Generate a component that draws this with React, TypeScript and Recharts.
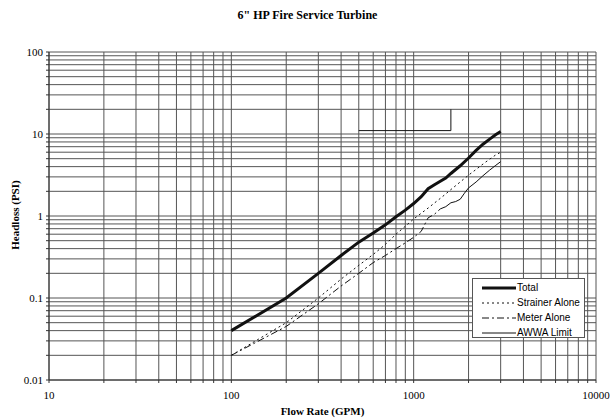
import React from "react";
import { LineChart, Line, XAxis, YAxis, CartesianGrid } from "recharts";

const title = '6" HP Fire Service Turbine';
const xTitle = "Flow Rate (GPM)";
const yTitle = "Headloss (PSI)";

const xDecades = [10, 100, 1000];
const yDecades = [0.01, 0.1, 1, 10];
const minorSteps = [1, 2, 3, 4, 5, 6, 7, 8, 9];
const xLast = 10000;
const yLast = 100;

const flow = [100, 200, 300, 400, 500, 600, 700, 800, 900, 1000, 1100, 1200, 1300, 1400, 1500, 1600, 1800, 2000, 2200, 2400, 2600, 2800, 3000];
const total = [0.04, 0.1, 0.2, 0.33, 0.48, 0.62, 0.78, 0.98, 1.18, 1.42, 1.72, 2.15, 2.4, 2.65, 2.9, 3.3, 4.1, 5.1, 6.3, 7.5, 8.6, 9.7, 10.7];
const strainer = [0.02, 0.05, 0.1, 0.17, 0.25, 0.34, 0.45, 0.6, 0.75, 0.92, 1.08, 1.25, 1.44, 1.64, 1.86, 2.1, 2.6, 3.15, 3.7, 4.3, 4.9, 5.5, 6.0];

const flowMeter = [100, 200, 300, 400, 500, 600, 700, 800, 900, 1000, 1100, 1200, 1300, 1400];
const meter = [0.02, 0.045, 0.085, 0.14, 0.2, 0.27, 0.33, 0.4, 0.47, 0.55, 0.65, 0.95, 1.05, 1.22];

const flowMeterHigh = [1400, 1500, 1600, 1700, 1800, 1900, 2000, 2200, 2400, 2600, 2800, 3000];
const meterHigh = [1.22, 1.3, 1.45, 1.5, 1.6, 1.9, 2.2, 2.6, 3.1, 3.6, 4.1, 4.6];

const flowAwwa = [500, 1600, 1600];
const awwa = [11, 11, 20];

const toPts = (xs: number[], ys: number[]) => xs.map((x, i) => ({ x, y: ys[i] }));

const xTicks = [...xDecades.flatMap((d) => minorSteps.map((m) => +(d * m).toPrecision(6))), xLast];
const yTicks = [...yDecades.flatMap((d) => minorSteps.map((m) => +(d * m).toPrecision(6))), yLast];

const isDecade = (v: number) => Math.abs(Math.log10(v) - Math.round(Math.log10(v))) < 1e-9;
const fmt = (v: number) => (isDecade(v) ? String(v) : "");

const serif = '"Liberation Serif", "Times New Roman", serif';
const sans = '"Liberation Sans", Arial, sans-serif';

const legendItems = [
  { name: "Total", width: 3, dash: undefined as string | undefined },
  { name: "Strainer Alone", width: 1, dash: "2 3" },
  { name: "Meter Alone", width: 1, dash: "7 3 2 3" },
  { name: "AWWA Limit", width: 1, dash: undefined },
];

export default function App() {
  return (
    <div style={{ position: "absolute", left: 0, top: 0, width: 615, height: 419, background: "#fff" }}>
      <div
        style={{
          position: "absolute",
          left: 0,
          width: 615,
          top: 8,
          textAlign: "center",
          fontFamily: serif,
          fontWeight: "bold",
          fontSize: 12,
        }}
      >
        {title}
      </div>
      <LineChart width={615} height={419} margin={{ top: 52, right: 19, bottom: 0, left: 0 }}>
        <CartesianGrid stroke="#555" strokeWidth={1} />
        <XAxis
          type="number"
          dataKey="x"
          scale="log"
          domain={[10, 10000]}
          ticks={xTicks}
          interval={0}
          tickFormatter={fmt}
          allowDataOverflow
          height={39}
          tickSize={3}
          tickMargin={8}
          stroke="#333"
          tick={{ fill: "#000", fontSize: 11, fontFamily: serif }}
        />
        <YAxis
          type="number"
          dataKey="y"
          scale="log"
          domain={[0.01, 100]}
          ticks={yTicks}
          interval={0}
          tickFormatter={fmt}
          allowDataOverflow
          width={49}
          tickSize={3}
          tickMargin={3}
          stroke="#333"
          tick={{ fill: "#000", fontSize: 11, fontFamily: serif }}
        />
        <Line data={toPts(flow, total)} dataKey="y" name="Total" stroke="#111" strokeWidth={3} dot={false} isAnimationActive={false} />
        <Line data={toPts(flow, strainer)} dataKey="y" name="Strainer Alone" stroke="#111" strokeWidth={1} strokeDasharray="2 3" dot={false} isAnimationActive={false} />
        <Line data={toPts(flowMeter, meter)} dataKey="y" name="Meter Alone" stroke="#111" strokeWidth={1} strokeDasharray="7 3 2 3" dot={false} isAnimationActive={false} />
        <Line data={toPts(flowMeterHigh, meterHigh)} dataKey="y" name="Meter Alone (high)" stroke="#111" strokeWidth={1} dot={false} isAnimationActive={false} legendType="none" />
        <Line data={toPts(flowAwwa, awwa)} dataKey="y" name="AWWA Limit" stroke="#111" strokeWidth={1} dot={false} isAnimationActive={false} />
      </LineChart>
      <div
        style={{
          position: "absolute",
          left: 0,
          width: 615,
          paddingLeft: 30,
          boxSizing: "border-box",
          top: 405,
          textAlign: "center",
          fontFamily: serif,
          fontWeight: "bold",
          fontSize: 11,
        }}
      >
        {xTitle}
      </div>
      <div
        style={{
          position: "absolute",
          left: 15,
          top: 215,
          transform: "translate(-50%, -50%) rotate(-90deg)",
          whiteSpace: "nowrap",
          fontFamily: serif,
          fontWeight: "bold",
          fontSize: 11,
        }}
      >
        {yTitle}
      </div>
      <div
        style={{
          position: "absolute",
          left: 472,
          top: 278,
          width: 113,
          height: 60,
          boxSizing: "border-box",
          border: "1px solid #555",
          background: "#fff",
          paddingTop: 1,
        }}
      >
        {legendItems.map((it) => (
          <div key={it.name} style={{ display: "flex", alignItems: "center", height: 15, paddingLeft: 9 }}>
            <svg width={34} height={8} style={{ flex: "none" }}>
              <line x1={0} y1={4} x2={34} y2={4} stroke="#111" strokeWidth={it.width} strokeDasharray={it.dash} />
            </svg>
            <span style={{ fontFamily: sans, fontSize: 10, color: "#000", marginLeft: 1, whiteSpace: "nowrap" }}>{it.name}</span>
          </div>
        ))}
      </div>
    </div>
  );
}
